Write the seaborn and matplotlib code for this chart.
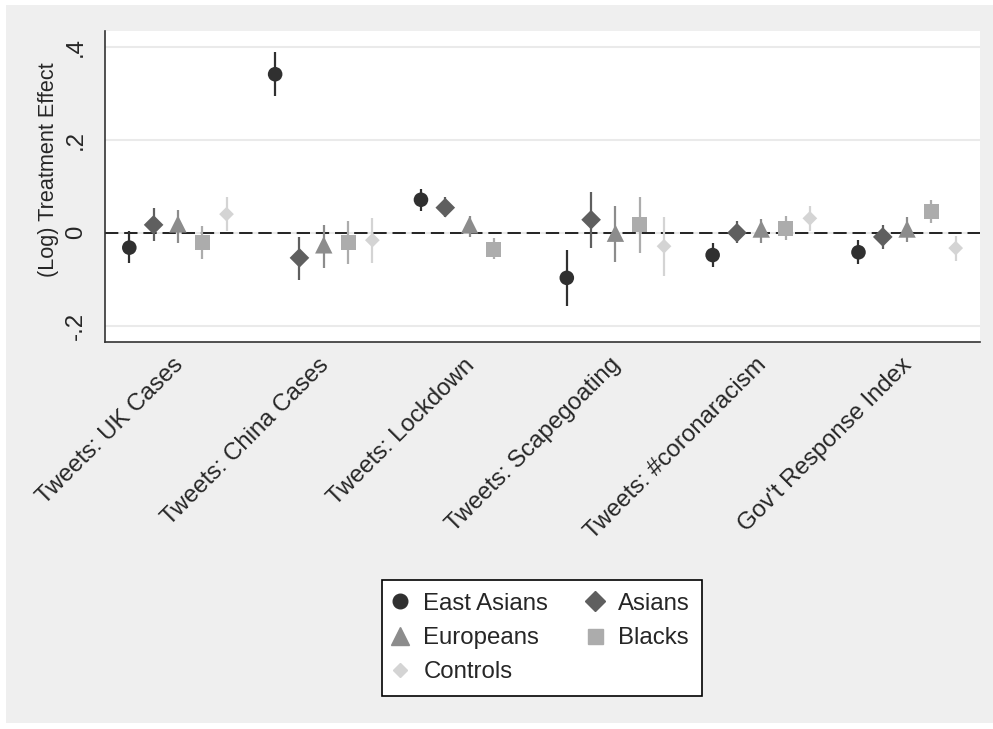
import numpy as np
import pandas as pd
import matplotlib.pyplot as plt
import seaborn as sns
from matplotlib.lines import Line2D
from matplotlib.patches import Rectangle

outcomes = ["Tweets: UK Cases", "Tweets: China Cases", "Tweets: Lockdown",
            "Tweets: Scapegoating", "Tweets: #coronaracism", "Gov't Response Index"]
groups = ["East Asians", "Asians", "Europeans", "Blacks", "Controls"]

# point estimates and 95% CI bounds, one value per outcome (nan = not shown)
east_asians = [-0.032, 0.341, 0.071, -0.097, -0.048, -0.042]
east_asians_lo = [-0.066, 0.295, 0.047, -0.158, -0.073, -0.067]
east_asians_hi = [0.003, 0.388, 0.095, -0.037, -0.022, -0.016]

asians = [0.017, -0.054, 0.054, 0.028, 0.000, -0.009]
asians_lo = [-0.017, -0.102, 0.034, -0.032, -0.023, -0.035]
asians_hi = [0.053, -0.009, 0.076, 0.088, 0.026, 0.017]

europeans = [0.019, -0.026, 0.017, -0.001, 0.008, 0.008]
europeans_lo = [-0.021, -0.076, -0.010, -0.062, -0.021, -0.019]
europeans_hi = [0.049, 0.017, 0.037, 0.057, 0.029, 0.033]

blacks = [-0.021, -0.021, -0.035, 0.017, 0.010, 0.046]
blacks_lo = [-0.057, -0.067, -0.057, -0.044, -0.015, 0.020]
blacks_hi = [0.014, 0.026, -0.011, 0.076, 0.035, 0.071]

controls = [0.040, -0.016, np.nan, -0.029, 0.031, -0.033]
controls_lo = [0.003, -0.064, np.nan, -0.092, 0.003, -0.060]
controls_hi = [0.077, 0.032, np.nan, 0.033, 0.057, -0.006]

colors = {"East Asians": "#303030", "Asians": "#5f5f5f", "Europeans": "#8c8c8c",
          "Blacks": "#acacac", "Controls": "#d4d4d4"}
markers = {"East Asians": "o", "Asians": "D", "Europeans": "^", "Blacks": "s", "Controls": "D"}
msize = {"East Asians": 10.5, "Asians": 10.0, "Europeans": 12.5, "Blacks": 10.8, "Controls": 7.5}

est_sets = [(east_asians, east_asians_lo, east_asians_hi), (asians, asians_lo, asians_hi),
            (europeans, europeans_lo, europeans_hi), (blacks, blacks_lo, blacks_hi),
            (controls, controls_lo, controls_hi)]

rows = []
for gi, (g, (est, lo, hi)) in enumerate(zip(groups, est_sets)):
    for oi, o in enumerate(outcomes):
        rows.append({"outcome": o, "group": g, "pos": oi + 1 + (gi - 2) / 6,
                     "est": est[oi], "lo": lo[oi], "hi": hi[oi]})
df = pd.DataFrame(rows).dropna()

sns.set_style("white")
plt.rcParams["font.family"] = ["Liberation Sans", "DejaVu Sans"]
FS = 17.3

fig = plt.figure(figsize=(9.93, 7.29), dpi=100, facecolor="white")
fig.patches.append(Rectangle((6 / 993, 6 / 729), 1, 1 - 11 / 729, transform=fig.transFigure,
                             facecolor="#efefef", edgecolor="none", zorder=-10))
ax = fig.add_axes([105 / 993, 1 - 342 / 729, 875 / 993, 311 / 729])
ax.set_facecolor("white")

for y in [-0.2, 0, 0.2, 0.4]:
    ax.axhline(y, color="#eaeaea", lw=1.5, zorder=0)
ax.axhline(0, color="black", lw=1.2, ls=(0, (8, 3.5)), zorder=1)

ax.vlines(df["pos"], df["lo"], df["hi"], colors=df["group"].map(colors), lw=1.6, zorder=2)
sns.scatterplot(data=df, x="pos", y="est", hue="group", style="group", size="group",
                hue_order=groups, style_order=groups, size_order=groups,
                palette=colors, markers=markers, sizes={g: msize[g] ** 2 for g in groups},
                linewidth=0, legend=False, zorder=3, ax=ax)

ax.set_xlim(0.5, 6.5)
ax.set_ylim(-0.235, 0.434)
ax.set_xticks(range(1, 7))
ax.set_xticklabels(outcomes, rotation=45, ha="right", va="center_baseline",
                   rotation_mode="anchor", fontsize=FS)
ax.set_yticks([-0.2, 0, 0.2, 0.4])
ax.set_yticklabels(["-.2", "0", ".2", ".4"], fontsize=FS, rotation=90, va="center", ha="right")
ax.tick_params(axis="both", direction="out", length=7, width=1.1, color="#333333", pad=6)
ax.tick_params(axis="y", pad=6)
ax.set_xlabel("")
ax.set_ylabel("(Log) Treatment Effect", fontsize=15.6)
ax.yaxis.set_label_coords(-0.052, 0.553)

for s in ["top", "right"]:
    ax.spines[s].set_visible(False)
for s in ["left", "bottom"]:
    ax.spines[s].set_color("#333333")
    ax.spines[s].set_linewidth(1.2)

order = ["East Asians", "Europeans", "Controls", "Asians", "Blacks"]
handles = [Line2D([], [], marker=markers[g], color=colors[g], linestyle="none",
                  markersize=msize[g]) for g in order]
leg = fig.legend(handles, order, loc="center", bbox_to_anchor=(542 / 993, 1 - 638 / 729),
                 ncol=2, fontsize=FS, frameon=True, fancybox=False, framealpha=1,
                 edgecolor="black", handlelength=0.5, handletextpad=0.7,
                 columnspacing=1.7, labelspacing=0.52, borderpad=0.52)
leg.get_frame().set_linewidth(1.2)

fig.savefig("out.png", dpi=100, facecolor=fig.get_facecolor())
